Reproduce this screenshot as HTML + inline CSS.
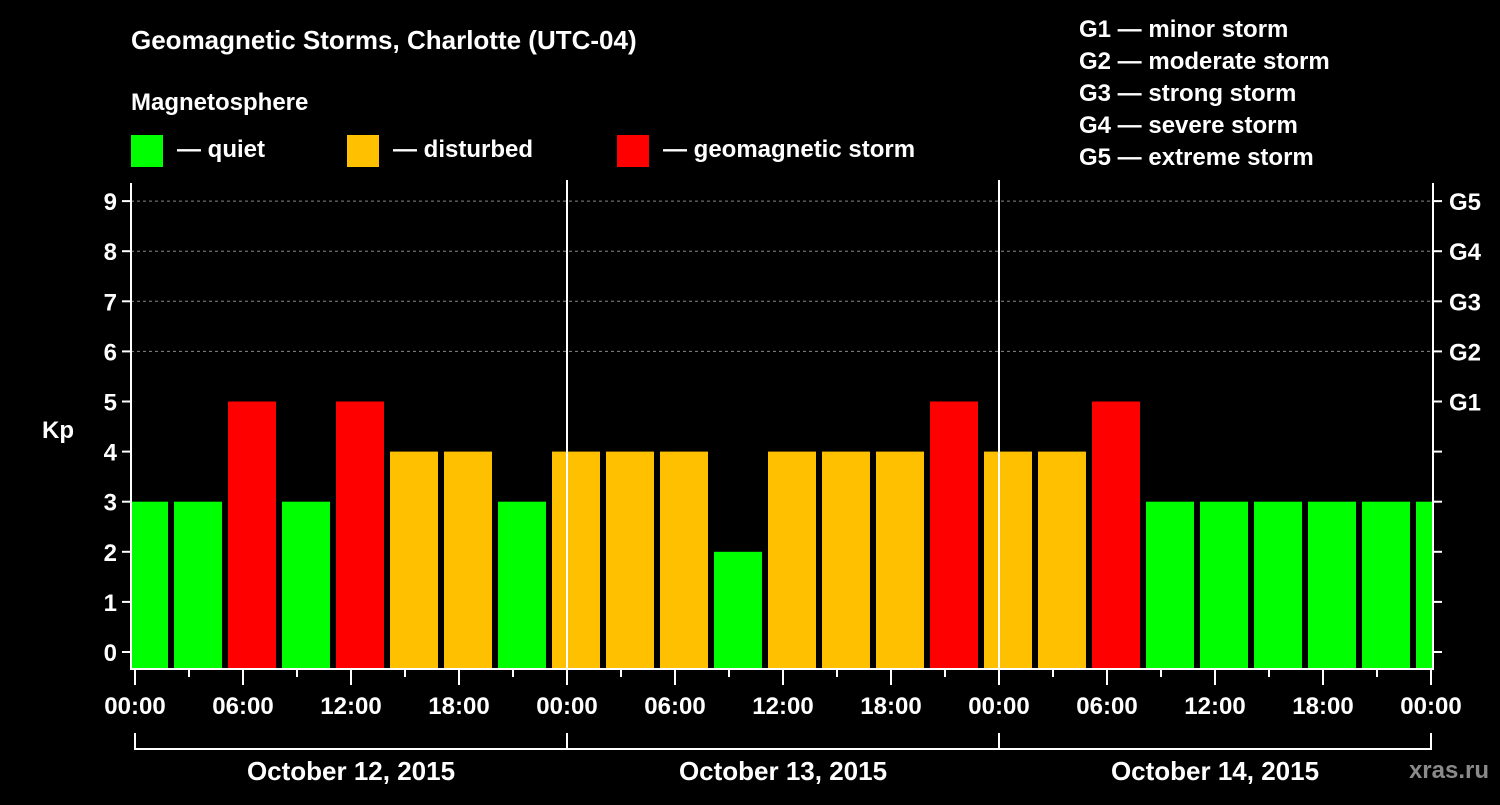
<!DOCTYPE html>
<html><head><meta charset="utf-8"><style>
body{margin:0;background:#000;}
svg text{font-family:"Liberation Sans",sans-serif;font-weight:bold;fill:#fff;}
</style></head><body>
<svg width="1500" height="800" xmlns="http://www.w3.org/2000/svg">
<rect width="1500" height="800" fill="#000"/>
<text x="131" y="49" font-size="26">Geomagnetic Storms, Charlotte (UTC-04)</text>
<text x="131" y="110" font-size="24">Magnetosphere</text>
<g><rect x="131" y="135" width="32" height="32" fill="#00ff00"/><text x="177" y="157" font-size="24">— quiet</text></g>
<g><rect x="347" y="135" width="32" height="32" fill="#ffc000"/><text x="393" y="157" font-size="24">— disturbed</text></g>
<g><rect x="617" y="135" width="32" height="32" fill="#ff0000"/><text x="663" y="157" font-size="24">— geomagnetic storm</text></g>
<g font-size="24">
<text x="1079" y="37">G1 — minor storm</text>
<text x="1079" y="69">G2 — moderate storm</text>
<text x="1079" y="101">G3 — strong storm</text>
<text x="1079" y="133">G4 — severe storm</text>
<text x="1079" y="165">G5 — extreme storm</text>
</g>
<defs><clipPath id="pc"><rect x="132" y="183" width="1300" height="485"/></clipPath></defs>
<g id="grid"></g>
<g id="bars" clip-path="url(#pc)"></g>
<g id="axes"></g>
<text x="1489" y="778" font-size="24" text-anchor="end" fill="#888" style="fill:#8a8a8a">xras.ru</text>
</svg>
<script>
const kpValues=[3,3,5,3,5,4,4,3, 4,4,4,2,4,4,4,5, 4,4,5,3,3,3,3,3,3];
const yTicks=[0,1,2,3,4,5,6,7,8,9];
const gLabels=["G1","G2","G3","G4","G5"];
const xTickLabels=["00:00","06:00","12:00","18:00","00:00","06:00","12:00","18:00","00:00","06:00","12:00","18:00","00:00"];
const dayLabels=["October 12, 2015","October 13, 2015","October 14, 2015"];
const NS="http://www.w3.org/2000/svg";
const X0=135,PXH=18,Y0=652,PXK=50.1,BOT=668,TOP=183,RIGHT=1433,LEFT=131;
const xs=h=>X0+h*PXH, ys=k=>Y0-k*PXK;
function mk(tag,attrs,parent,text){const e=document.createElementNS(NS,tag);for(const k in attrs)e.setAttribute(k,attrs[k]);if(text!==undefined)e.textContent=text;document.getElementById(parent).appendChild(e);return e;}
const color=k=>k>=5?"#ff0000":(k>=4?"#ffc000":"#00ff00");
// grid
for(let k=6;k<=9;k++){const l=mk("line",{x1:LEFT,x2:RIGHT,y1:ys(k),y2:ys(k),stroke:"#888","stroke-dasharray":"3,3","stroke-width":1},"grid");

}
// bars
kpValues.forEach((v,i)=>{const c=3*i+0.5;const r=mk("rect",{x:xs(c)-24,width:48,y:ys(v),height:BOT-ys(v),fill:color(v)},"bars");

});
// day separators
[24,48].forEach(h=>{const l=mk("line",{x1:xs(h),x2:xs(h),y1:TOP-3,y2:BOT,stroke:"#fff","stroke-width":2},"axes");

});
// frame
const f=mk("path",{d:`M${LEFT} ${TOP}V${BOT+1}H${RIGHT}V${TOP}`,fill:"none",stroke:"#fff","stroke-width":2},"axes");


// y ticks
yTicks.forEach(k=>{const y=ys(k);
const t=mk("line",{x1:LEFT-9,x2:LEFT,y1:y,y2:y,stroke:"#fff","stroke-width":2},"axes");


const t2=mk("line",{x1:RIGHT,x2:RIGHT+9,y1:y,y2:y,stroke:"#fff","stroke-width":2},"axes");


const lb=mk("text",{x:117,y:y+9,"font-size":24,"text-anchor":"end"},"axes",String(k));

});
gLabels.forEach((g,i)=>{const lb=mk("text",{x:1449,y:ys(5+i)+9,"font-size":24},"axes",g);

});
const yt=mk("text",{x:42,y:438,"font-size":24},"axes","Kp");


// x ticks
for(let h=0;h<=72;h+=3){const major=h%6===0;const x=xs(h);
const t=mk("line",{x1:x,x2:x,y1:BOT,y2:BOT+(major?17:9),stroke:"#fff","stroke-width":2},"axes");

}
xTickLabels.forEach((s,i)=>{const lb=mk("text",{x:xs(i*6),y:714,"font-size":24,"text-anchor":"middle"},"axes",s);

});
// date bracket
const br=mk("path",{d:`M${xs(0)} 733V749H${xs(72)}V733M${xs(24)} 733V749M${xs(48)} 733V749`,fill:"none",stroke:"#fff","stroke-width":2},"axes");


dayLabels.forEach((d,i)=>{const lb=mk("text",{x:xs(i*24+12),y:780,"font-size":26,"text-anchor":"middle"},"axes",d);

});
</script>
</body></html>
